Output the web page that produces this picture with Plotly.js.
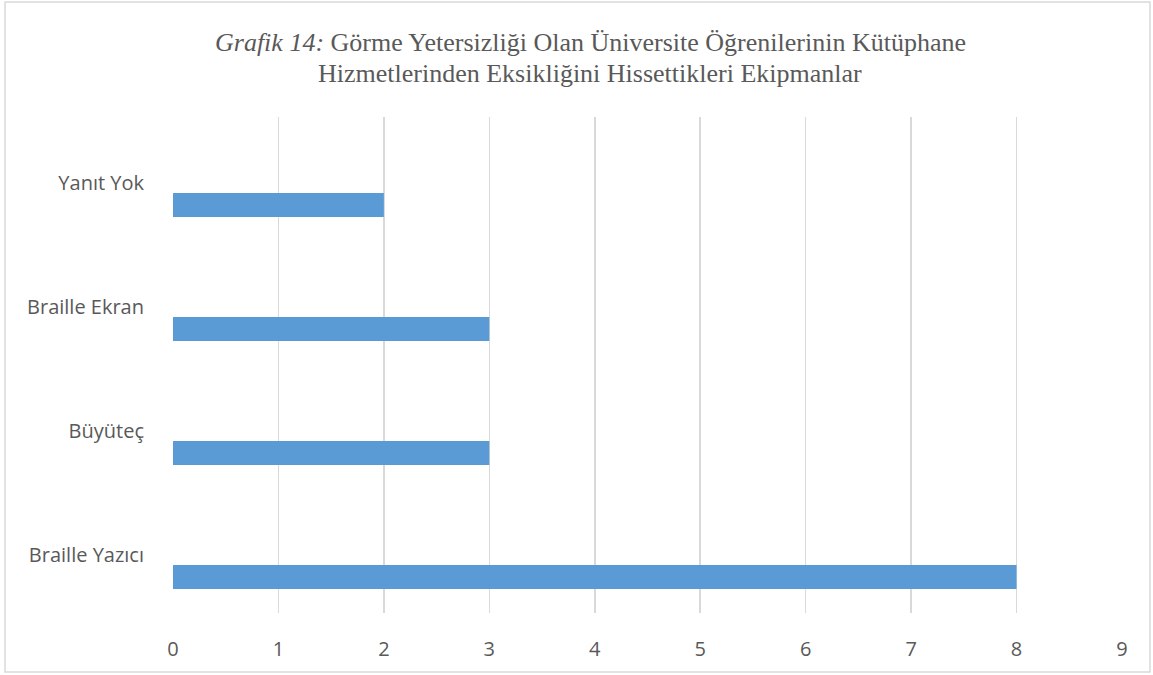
<!DOCTYPE html>
<html>
<head>
<meta charset="utf-8">
<script src="https://cdn.plot.ly/plotly-3.0.1.min.js"></script>
<style>html,body{margin:0;padding:0;background:#fff;}#chart{width:1153px;height:675px;}</style>
</head>
<body>
<div id="chart"></div>
<script>
const categories = ["Braille Yazıcı", "Büyüteç", "Braille Ekran", "Yanıt Yok"];
const values = [8, 3, 3, 2];
const xTicks = [0, 1, 2, 3, 4, 5, 6, 7, 8, 9];
const titleLine1 = '<i>Grafik 14:</i> Görme Yetersizliği Olan Üniversite Öğrenilerinin Kütüphane';
const titleLine2 = 'Hizmetlerinden Eksikliğini Hissettikleri Ekipmanlar';

const trace = {
  type: 'bar',
  orientation: 'h',
  x: values,
  y: categories,
  offset: -0.306,
  width: 0.194,
  marker: {color: '#5B9BD5'},
  hoverinfo: 'x+y'
};

const titleFont = {family: 'Liberation Serif, Times New Roman, serif', size: 26, color: '#595959'};
const tickFont = {family: 'Open Sans, sans-serif', size: 20, color: '#595959'};

const layout = {
  width: 1153,
  height: 675,
  margin: {l: 173, r: 31, t: 117, b: 62},
  paper_bgcolor: '#ffffff',
  plot_bgcolor: '#ffffff',
  showlegend: false,
  xaxis: {
    range: [0, 9],
    tickvals: xTicks,
    showgrid: true,
    gridcolor: '#d9d9d9',
    gridwidth: 1.5,
    zeroline: false,
    showline: false,
    ticks: '',
    ticklabelstandoff: 22,
    tickfont: tickFont,
    fixedrange: true
  },
  yaxis: {
    type: 'category',
    categoryorder: 'array',
    categoryarray: categories,
    range: [-0.5, 3.5],
    showgrid: false,
    zeroline: false,
    showline: false,
    ticks: '',
    ticklabelstandoff: 28,
    ticklabelshift: 4,
    tickfont: tickFont,
    fixedrange: true
  },
  annotations: [
    {text: titleLine1, xref: 'paper', yref: 'paper', x: (590 - 173) / 949, y: (613 - 42) / 496,
     xanchor: 'center', yanchor: 'middle', showarrow: false, font: titleFont},
    {text: titleLine2, xref: 'paper', yref: 'paper', x: (590 - 173) / 949, y: (613 - 73) / 496,
     xanchor: 'center', yanchor: 'middle', showarrow: false, font: titleFont}
  ],
  shapes: [{
    type: 'rect', xref: 'paper', yref: 'paper',
    x0: -0.177, x1: 1.0295, y0: -0.119, y1: 1.2319,
    line: {color: '#d9d9d9', width: 1.5},
    fillcolor: 'rgba(0,0,0,0)',
    layer: 'below'
  }]
};

Plotly.newPlot('chart', [trace], layout, {displayModeBar: false, staticPlot: true});
</script>
</body>
</html>
